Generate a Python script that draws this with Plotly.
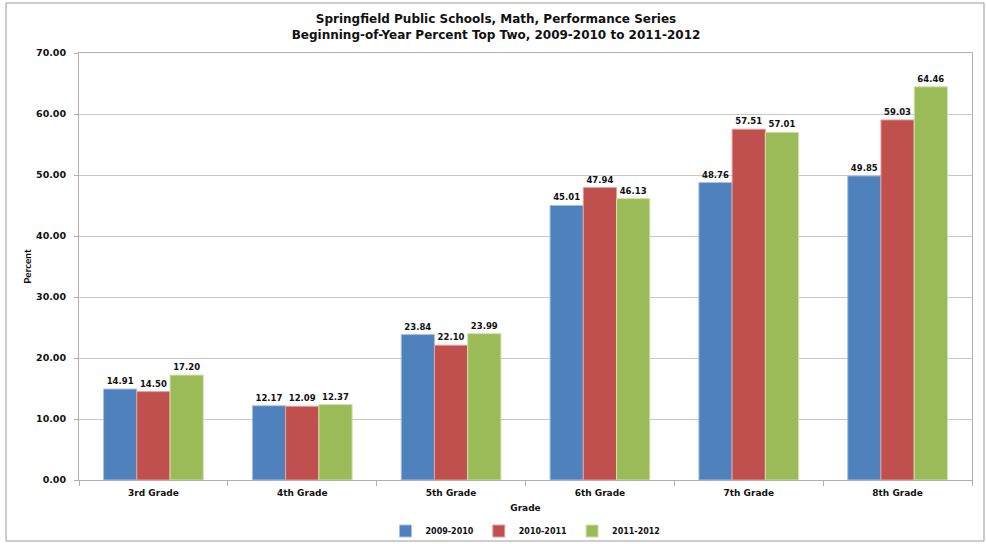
import plotly.graph_objects as go

grades = ["3rd Grade", "4th Grade", "5th Grade", "6th Grade", "7th Grade", "8th Grade"]
series_names = ["2009-2010", "2010-2011", "2011-2012"]
v_2009 = [14.91, 12.17, 23.84, 45.01, 48.76, 49.85]
v_2010 = [14.50, 12.09, 22.10, 47.94, 57.51, 59.03]
v_2011 = [17.20, 12.37, 23.99, 46.13, 57.01, 64.46]
colors = ["#4F81BD", "#C0504D", "#9BBB59"]
edge_colors = ["#A7C0E0", "#E3A09E", "#CFE2AB"]
y_ticks = [0, 10, 20, 30, 40, 50, 60, 70]

FONT = "DejaVu Sans"
fig = go.Figure()
for name, vals, c, ec in zip(series_names, [v_2009, v_2010, v_2011], colors, edge_colors):
    fig.add_trace(go.Bar(
        x=grades, y=vals, name=name,
        marker=dict(color=c, line=dict(color=ec, width=1)),
        text=vals, texttemplate="%{y:.2f}", textposition="outside",
        textfont=dict(family=FONT, size=8.5, color="#111111", weight="bold"),
        cliponaxis=False,
    ))

W, H = 986, 544
L, R, T, B = 79, 14, 53, 64
pw, ph = W - L - R, H - T - B

fig.update_layout(
    width=W, height=H,
    margin=dict(l=L, r=R, t=T, b=B, autoexpand=False),
    paper_bgcolor="white", plot_bgcolor="white",
    barmode="group", bargap=0.33, bargroupgap=0,
    font=dict(family=FONT, color="#111111"),
    title=dict(
        text="Springfield Public Schools, Math, Performance Series<br>Beginning-of-Year Percent Top Two, 2009-2010 to 2011-2012",
        x=496 / W, xanchor="center", xref="container",
        y=1 - 23 / H, yanchor="top", yref="container",
        font=dict(family=FONT, size=12, color="#111111", weight="bold"),
    ),
    legend=dict(
        orientation="h", x=0.5, xanchor="center",
        y=(480 - 531) / ph, yanchor="middle",
        font=dict(family=FONT, size=8, weight="bold"),
        itemwidth=30, traceorder="normal",
        bgcolor="rgba(0,0,0,0)",
    ),
    xaxis=dict(
        automargin=False,
        title=dict(text="Grade", font=dict(family=FONT, size=9, weight="bold"), standoff=7),
        tickfont=dict(family=FONT, size=9, weight="bold"),
        showline=True, linecolor="#B0B0B0", linewidth=1, mirror=True,
        ticks="outside", tickson="boundaries", ticklen=5, tickcolor="#B0B0B0",
        ticklabelstandoff=4,
    ),
    yaxis=dict(
        automargin=False,
        title=dict(text="Percent", font=dict(family="Lato", size=10, weight="bold"), standoff=2),
        range=[0, 70], tickvals=y_ticks, tickformat=".2f",
        tickfont=dict(family=FONT, size=9.5, weight="bold"),
        showgrid=True, gridcolor="#C8C8C8", gridwidth=1,
        showline=True, linecolor="#B0B0B0", linewidth=1, mirror=True,
        ticks="outside", ticklen=4, tickcolor="#B0B0B0", zeroline=False,
        ticklabelstandoff=6,
    ),
    shapes=[dict(
        type="rect", xref="paper", yref="paper",
        x0=(6 - L) / pw, x1=(984 - L) / pw,
        y0=(H - B - 541) / ph, y1=(H - B - 3) / ph,
        line=dict(color="#9A9A9A", width=1), fillcolor="rgba(0,0,0,0)", layer="below",
    )],
)

fig.write_html(
    "out.html",
    config={"displayModeBar": False},
    post_script="document.body.style.margin='0';document.body.style.overflow='hidden';",
)
